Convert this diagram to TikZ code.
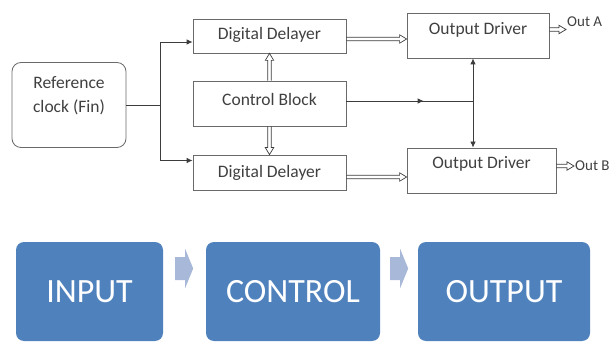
\documentclass[tikz,border=0pt]{standalone}
\usepackage{fontspec}
\setmainfont{Carlito}
\usetikzlibrary{arrows.meta,calc}
\definecolor{boxc}{HTML}{6A6A6A}
\definecolor{lnc}{HTML}{3C3C3C}
\definecolor{txtc}{HTML}{404040}
\definecolor{blu}{HTML}{4F81BD}
\definecolor{garr}{HTML}{A8B8D8}
\begin{document}
\begin{tikzpicture}[x=1pt,y=-1pt,
  box/.style={draw=boxc, line width=0.8pt, rectangle, inner sep=0pt},
  txt/.style={text=txtc, font=\fontsize{17.5}{24}\selectfont, inner sep=0pt},
  small/.style={text=txtc, font=\fontsize{15}{18}\selectfont, inner sep=0pt},
  refbox/.style={box, rounded corners=9pt, minimum width=114pt, minimum height=85pt},
  ln/.style={draw=lnc, line width=0.8pt},
  arr/.style={ln, -{Latex[length=6pt,width=5.5pt]}},
  hol/.style={draw=lnc, line width=0.7pt, line join=miter,
    to path={let \p1=(\tikztostart), \p2=(\tikztotarget),
      \n1={atan2(\y2-\y1,\x2-\x1)}, \n2={veclen(\x2-\x1,\y2-\y1)} in
      ([shift={(\p1)},rotate=\n1]0pt,1.8pt)
      -- ([shift={(\p1)},rotate=\n1]\n2-7pt,1.8pt)
      -- ([shift={(\p1)},rotate=\n1]\n2-7pt,4.2pt)
      -- ([shift={(\p1)},rotate=\n1]\n2,0pt)
      -- ([shift={(\p1)},rotate=\n1]\n2-7pt,-4.2pt)
      -- ([shift={(\p1)},rotate=\n1]\n2-7pt,-1.8pt)
      -- ([shift={(\p1)},rotate=\n1]0pt,-1.8pt)}},
  bluebox/.style={fill=blu, rounded corners=8pt, minimum height=99pt, inner sep=0pt, text=white, font=\fontsize{34}{40}\selectfont},
  grayarrow/.style={fill=garr}
]
\useasboundingbox (0,0) rectangle (611,342);

% top diagram
\node[refbox] (ref) at (69,105) {};
\node[txt, align=center] (reftxt) at (69,96) {Reference\\clock (Fin)};

\node[box, minimum width=153pt, minimum height=34pt, label={[txt,yshift=1pt]center:Digital Delayer}] (dd1) at (269.5,36) {};
\node[box, minimum width=153pt, minimum height=45pt, label={[txt,yshift=4pt]center:Control Block}] (cb) at (269.5,103.5) {};
\node[box, minimum width=153pt, minimum height=35pt, label={[txt]center:Digital Delayer}] (dd2) at (269.5,172.5) {};
\node[box, minimum width=142pt, minimum height=45pt, label={[txt,yshift=5.5pt]center:Output Driver}] (od1) at (478,35.5) {};
\node[box, minimum width=149pt, minimum height=45pt, label={[txt,yshift=6.5pt]center:Output Driver}] (od2) at (481.5,170.5) {};

\node[small, anchor=west] (outa) at (567,22) {Out A};
\node[small, anchor=west] (outb) at (575,166) {Out B};

% clock distribution
\coordinate (split) at (160,105);
\draw[ln] (ref.east) -- (split);
\coordinate (d1in) at ([yshift=-6pt]dd1.west);
\coordinate (d2in) at ([yshift=12pt]dd2.west);
\draw[arr] (split) |- (d1in);
\draw[arr] (split) |- (d2in);

% hollow arrows
\coordinate (h1) at ([yshift=-3pt]dd1.east);
\draw[hol] (h1) to (h1 -| od1.west);
\coordinate (h2) at ([yshift=-4.5pt]dd2.east);
\draw[hol] (h2) to (h2 -| od2.west);
\draw[hol] (cb.north) to (dd1.south);
\draw[hol] (cb.south) to (dd2.north);
\coordinate (oa) at ([yshift=6pt]od1.east);
\draw[hol] (oa) to ([xshift=-1pt]oa -| outa.west);
\coordinate (ob) at ([yshift=4.5pt]od2.east);
\draw[hol] (ob) to ([xshift=-1pt]ob -| outb.west);

% control line
\coordinate (c1) at ([yshift=2.5pt]cb.east);
\coordinate (j) at (473,101);
\draw[ln] (c1) -- (j);
\draw[arr] (c1) -- ($(c1)!0.61!(j)$);
\draw[arr] (j) -- (j |- od1.south);
\draw[arr] (j) -- (j |- od2.north);

% bottom process
\node[bluebox, minimum width=147pt] (inp) at (89.5,291.5) {INPUT};
\node[bluebox, minimum width=174pt] (ctl) at (293,291.5) {CONTROL};
\node[bluebox, minimum width=172pt] (outp) at (504,291.5) {OUTPUT};

\fill[grayarrow] ([xshift=12pt,yshift=11.5pt]inp.east) -- ++(10,0) -- ++(0,8) -- ++(8,-19.5) -- ++(-8,-19.5) -- ++(0,8) -- ++(-10,0) -- cycle;
\fill[grayarrow] ([xshift=10pt,yshift=11.5pt]ctl.east) -- ++(10,0) -- ++(0,8) -- ++(8,-19.5) -- ++(-8,-19.5) -- ++(0,8) -- ++(-10,0) -- cycle;
\end{tikzpicture}
\end{document}
